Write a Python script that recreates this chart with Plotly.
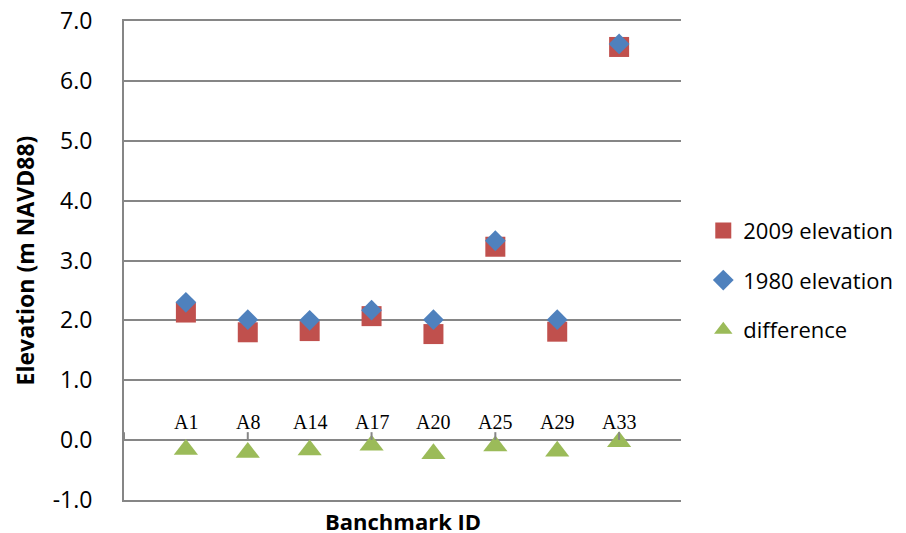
import plotly.graph_objects as go

categories = ["A1", "A8", "A14", "A17", "A20", "A25", "A29", "A33"]
elev_2009 = [2.13, 1.80, 1.82, 2.07, 1.77, 3.23, 1.81, 6.57]
elev_1980 = [2.30, 2.01, 2.00, 2.17, 2.01, 3.33, 2.01, 6.62]
difference = [-0.16, -0.21, -0.17, -0.09, -0.23, -0.10, -0.19, -0.03]
positions = list(range(1, len(categories) + 1))
y_ticks = [-1, 0, 1, 2, 3, 4, 5, 6, 7]
y_tick_labels = ["-1.0", "0.0", "1.0", "2.0", "3.0", "4.0", "5.0", "6.0", "7.0"]
zero_axis_ticks = [0, 2, 4, 6, 8]
label_height = 0.30

GRID = "#868686"
FONT = "Open Sans"

fig = go.Figure()
fig.add_trace(go.Scatter(x=positions, y=elev_2009, mode="markers", name="2009 elevation",
                         legendgroup="a",
                         marker=dict(symbol="square", size=20, color="#C0504D")))
fig.add_trace(go.Scatter(x=positions, y=elev_1980, mode="markers", name="1980 elevation",
                         legendgroup="b",
                         marker=dict(symbol="diamond", size=16, color="#4F81BD")))
fig.add_trace(go.Scatter(x=positions, y=difference, mode="markers", name="difference",
                         legendgroup="c",
                         marker=dict(symbol="triangle-up", size=21, color="#9BBB59")))

annotations = [dict(text=c, x=p, y=label_height, xref="x", yref="y", showarrow=False,
                    yanchor="middle", font=dict(family="Liberation Serif", size=20))
               for c, p in zip(categories, positions)]
annotations.append(dict(text="<b>Banchmark ID</b>", x=0.5, y=0, xref="paper", yref="paper",
                        yshift=-21, showarrow=False, yanchor="middle",
                        font=dict(family=FONT, size=22)))

shapes = [dict(type="line", xref="x", yref="y", x0=t, x1=t, y0=0, y1=0.13,
               line=dict(color=GRID, width=2)) for t in zero_axis_ticks]

fig.update_layout(
    width=906, height=533,
    margin=dict(l=116, r=233, t=13, b=41, autoexpand=False),
    paper_bgcolor="white", plot_bgcolor="white",
    font=dict(family=FONT, size=23, color="black"),
    showlegend=True,
    legend=dict(x=1.040, y=0.459, xanchor="left", yanchor="middle",
                font=dict(family=FONT, size=22), tracegroupgap=18,
                itemwidth=30),
    xaxis=dict(range=[0, 9], showticklabels=False, ticks="",
               showgrid=False, zeroline=False,
               showline=True, mirror=True, linecolor=GRID, linewidth=2),
    yaxis=dict(range=[-1.004, 7.004], tickvals=y_ticks, ticktext=y_tick_labels,
               showgrid=True, gridcolor=GRID, gridwidth=2,
               zeroline=True, zerolinecolor=GRID, zerolinewidth=2,
               showline=True, linecolor=GRID, linewidth=2,
               ticks="", ticklabelstandoff=25, automargin=False,
               ticklabeloverflow="allow",
               tickfont=dict(family=FONT, size=23),
               title=dict(text="<b>Elevation (m NAVD88)</b>", standoff=12,
                          font=dict(family=FONT, size=23))),
    annotations=annotations,
    shapes=shapes,
)

fig.write_html("out.html")
